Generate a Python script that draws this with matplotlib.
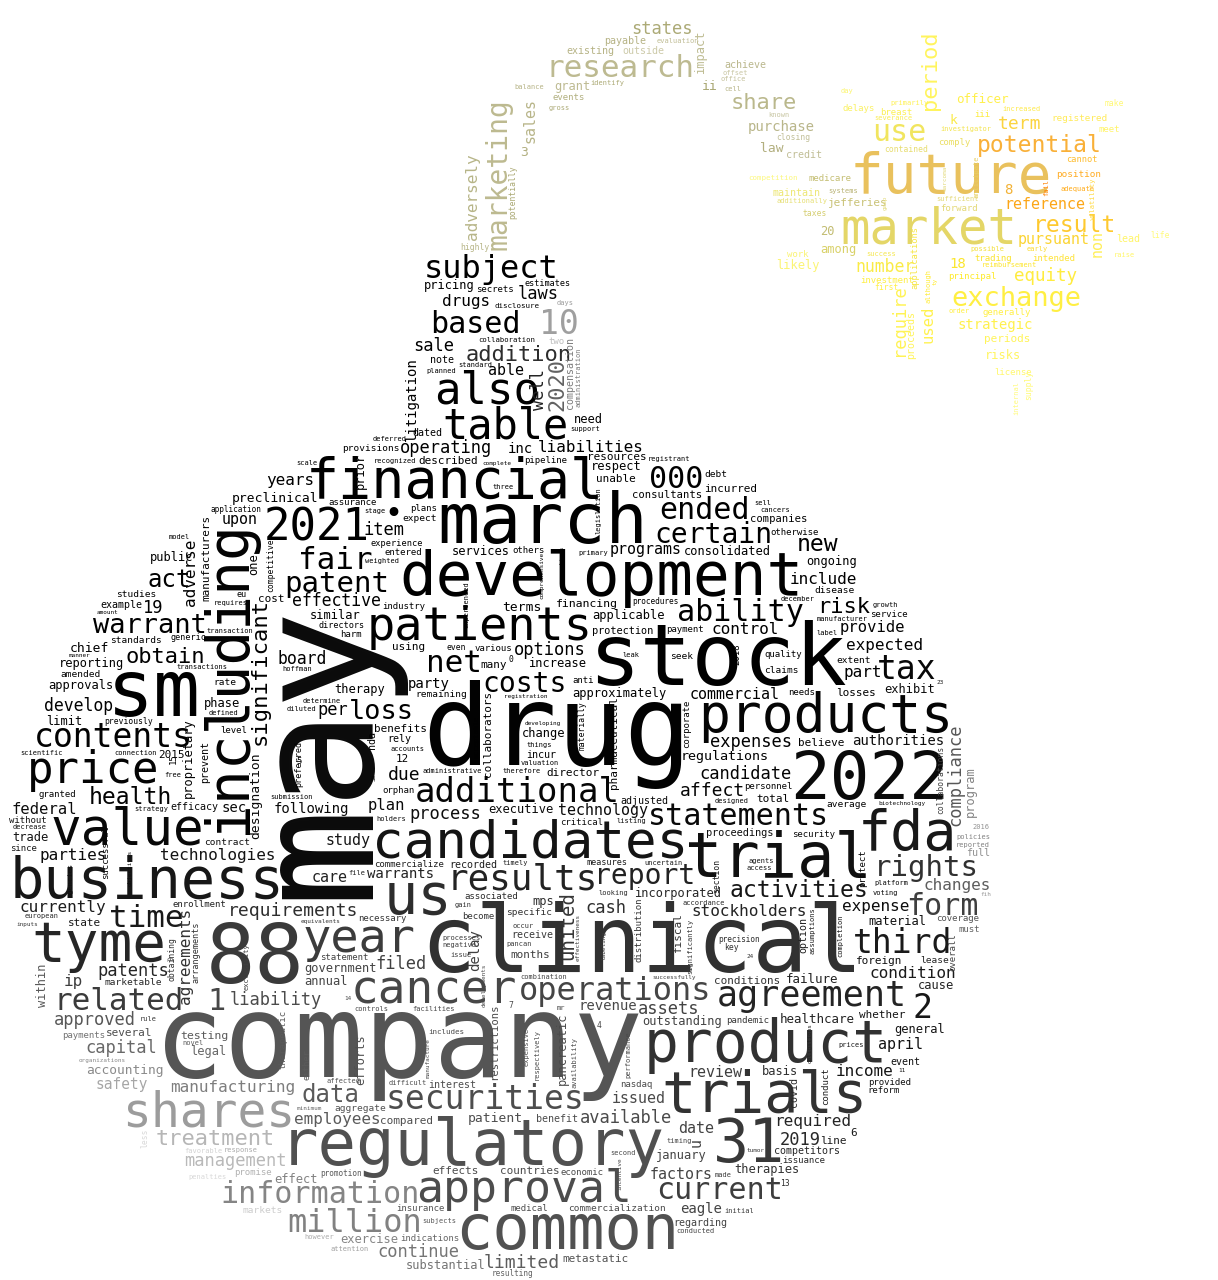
import numpy as np
import matplotlib
matplotlib.use("Agg")
import matplotlib.pyplot as plt
from matplotlib.textpath import TextPath
from matplotlib.font_manager import FontProperties
from matplotlib.path import Path
from matplotlib.transforms import Affine2D

W, H, DPI = 1218, 1280, 100
FONT = "DejaVu Sans Mono"
FP = FontProperties(family=FONT)

# ---------------------------------------------------------------- data
bomb_words = [
    "may", "company", "drug", "clinical", "stock", "88", "sm", "march", "2022", "regulatory",
    "trial", "31", "common", "development", "candidates", "including", "product", "trials", "business", "us",
    "tyme", "fda", "financial", "products", "approval", "value", "shares", "year", "patients", "cancer",
    "price", "also", "2021", "table", "results", "agreement", "additional", "contents", "securities", "tax",
    "10", "third", "2", "operations", "million", "subject", "related", "fair", "time", "net",
    "form", "current", "ability", "statements", "information", "significant", "based", "ended", "000", "1",
    "patent", "rights", "certain", "costs", "report", "loss", "warrant", "act", "data", "new",
    "addition", "health", "activities", "2020", "obtain", "risk", "treatment", "united", "due", "requirements",
    "limited", "affect", "2019", "options", "filed", "agreements", "approved", "operating", "laws", "sale",
    "assets", "liability", "continue", "cash", "capital", "process", "condition", "compliance", "candidate", "patents",
    "available", "expenses", "item", "management", "19", "effective", "board", "develop", "well", "study",
    "manufacturing", "technologies", "stockholders", "employees", "drugs", "parties", "include", "years", "expected", "income",
    "currently", "required", "ip", "liabilities", "changes", "part", "adverse", "expense", "control", "per",
    "federal", "plan", "provide", "regulations", "technology", "factors", "commercial", "accounting", "review", "upon",
    "issued", "april", "care", "able", "safety", "authorities", "revenue", "following", "incorporated", "outstanding",
    "warrants", "litigation", "eagle", "sec", "delay", "designation", "chief", "terms", "patient", "preclinical",
    "healthcare", "failure", "efforts", "applicable", "cause", "basis", "approvals", "pancreatic", "phase", "reporting",
    "trade", "general", "exercise", "services", "respect", "therapies", "effect", "exhibit", "consolidated", "ongoing",
    "public", "one", "approximately", "proprietary", "similar", "executive", "substantial", "government", "need", "change",
    "annual", "mps", "therapy", "limit", "increase", "january", "within", "testing", "months", "12",
    "director", "line", "metastatic", "effects", "many", "fiscal", "2015", "losses", "foreign", "several",
    "believe", "benefits", "compared", "total", "whether", "state", "described", "commercialization", "6", "resources",
    "using", "conditions", "unable", "countries", "cost", "manufacturers", "collaborators", "pharmaceutical", "companies", "consultants",
    "restrictions", "provisions", "lease", "markets", "claims", "marketable", "average", "standards", "amended", "aggregate",
    "disease", "seek", "studies", "specific", "contract", "remaining", "expect", "extent", "rate", "debt",
    "event", "adjusted", "example", "receive", "rely", "interest", "recorded", "note", "benefit", "competitors",
    "full", "incur", "compensation", "option", "covid", "prevent", "efficacy", "necessary", "granted", "nasdaq",
    "two", "industry", "commercialize", "assurance", "secrets", "enrollment", "measures", "provided", "statement", "orphan",
    "harm", "medical", "overall", "protect", "pandemic", "associated", "application", "quality", "payments", "indications",
    "plans", "anti", "economic", "reform", "pipeline", "5", "otherwise", "entered", "payment", "distribution",
    "successful", "personnel", "become", "level", "needs", "critical", "service", "security", "coverage", "resulting",
    "conduct", "others", "procedures", "precision", "without", "promotion", "must", "issuance", "15", "corporate",
    "2018", "directors", "estimates", "collaboration", "generic", "either", "arrangements", "eu", "preferred", "13",
    "previously", "0", "materially", "competitive", "section", "less", "4", "key", "even", "7",
    "collaborations", "disclosure", "includes", "diluted", "assumptions", "completion", "exclusivity", "scientific", "policies", "subjects",
    "issue", "administration", "voting", "response", "european", "primary", "weighted", "model", "pancan", "penalties",
    "free", "respectively", "biotechnology", "legislation", "days", "hoffman", "occur", "sell", "agencies", "prices",
    "made", "favorable", "transactions", "determine", "manufacturer", "things", "submission", "support", "second", "cancers",
    "reported", "transaction", "planned", "mr", "valuation", "administrative", "growth", "agents", "experienced", "accounts",
    "initial", "looking", "organizations", "combination", "acceptable", "designed", "expensive", "leak", "stage", "recognized",
    "three", "conducted", "facilities", "timely", "scale", "holders", "registration", "registrant", "listing", "negative",
    "developing", "however", "connection", "platform", "deferred", "decrease", "affected", "attention", "accordance", "controls",
    "uncertain", "december", "difficult", "gain", "novel", "performance", "requires", "successfully", "equivalents", "therefore",
    "access", "strategy", "timing", "rule", "availability", "11", "23", "comprehensive", "manufacture", "objectives",
    "actions", "manner", "complete", "inputs", "developments", "effectiveness", "incentive", "co", "30", "minimum",
    "tumor", "amount", "14", "24", "obligations", "labeling", "file", "fih", "label", "standard",
    "financing", "pricing", "legal", "experience", "processes", "material", "various", "since", "date", "programs",
    "program", "obtaining", "proceedings", "insurance", "nda", "promise", "protection", "dated", "incurred", "regarding",
    "party", "defined", "2016", "u", "therapeutic", "prior", "inc", "significantly", "\u2022",
]
bomb_sizes = (
    [165, 116, 112, 92, 86, 82, 78, 70, 66, 64]
    + [62, 60, 62, 61, 61, 58, 58, 57, 57, 57]
    + [56, 55, 55, 53, 52, 51, 48, 47, 47, 46]
    + [44, 44, 44, 42, 36, 35, 34, 33, 33, 33]
    + [33, 33, 33, 32, 32, 32, 31, 31, 31, 31]
    + [30, 30, 30, 30, 30, 30, 30, 30, 30, 30]
    + [29, 29, 28, 28, 28, 27, 27, 24, 24, 23]
    + [22, 23, 23, 22, 22, 22, 22, 19, 18, 18]
    + [18, 18, 17, 17, 17, 16, 17, 17, 17, 17]
    + [17, 17, 17, 17, 17, 17, 16, 17, 17, 17]
    + [17, 17, 17, 17, 17, 16.5, 16.5, 16.5, 17, 15]
    + [16, 16, 16, 16, 16, 16, 16, 16, 16, 16]
    + [16, 16, 16, 16, 16, 16, 16, 16, 16, 17]
    + [15.5, 15.5, 15.5, 15.5, 15, 15, 15, 15, 15, 15]
    + [15, 15, 15, 15, 14.5, 14, 14, 14, 14, 14]
    + [14, 14, 14, 14, 14, 13, 13, 13, 13, 13]
    + [12.5, 12.5, 12, 12, 12, 12, 12, 12, 12, 12]
    + [12, 12, 12, 12, 12, 12, 12, 12, 12, 12]
    + [12, 12, 12, 12, 12, 12, 12, 12, 12, 12]
    + [12, 12, 12, 12, 12, 12, 12, 11.5, 11, 11]
    + [11, 11, 11, 11, 11, 11, 11, 11, 11, 11]
    + [11, 11, 11, 11, 11, 11, 11, 11, 11, 11]
    + [11, 11, 11, 11, 11, 11, 11, 11, 10.5, 10.5]
    + [10.5, 9.5, 9.5, 9.5, 9.5, 9.5, 9.5, 9.5, 9.5, 9.5]
    + [9.5, 9.5, 9.5, 9.5, 9.5, 9.5, 9.5, 9.5, 9.5, 9.5]
    + [10, 10, 10, 10, 10, 10, 10, 10, 10, 10]
    + [10, 10, 10, 10, 10, 10, 10, 9, 9, 9]
    + [9, 9, 9, 9, 9, 9, 8.5, 9, 9, 9]
    + [9, 9, 9, 9, 9, 9, 9, 9, 9, 9]
    + [9, 9, 9, 9, 9, 9, 9, 9, 9, 9]
    + [9, 9, 9, 9, 9, 9, 9, 9, 9, 9]
    + [9, 9, 9, 9, 9, 9, 9, 9, 9, 9]
    + [9, 8.5, 8.5, 8.5, 8.5, 8.5, 8.5, 8.5, 8.5, 8]
    + [8, 8, 8, 8, 8, 8, 8, 8, 8, 8]
    + [8, 7.5, 7.5, 7, 7, 7, 7, 7, 7, 7]
    + [7, 7, 7, 7, 7, 7, 7, 7, 7, 7]
    + [7, 7, 7, 7, 7, 7, 7, 7, 7, 7]
    + [7, 7, 7, 7, 7, 7, 7, 7, 7, 7]
    + [7, 7, 7, 7, 7, 7, 7, 7, 7, 7]
    + [7, 7, 7, 7, 7, 7, 7, 7, 7, 7]
    + [7, 7, 7, 7, 7, 7, 7, 7, 7, 7]
    + [7, 7, 7, 7, 7, 7, 7, 7, 7, 7]
    + [7, 7, 7, 7, 7, 7, 7, 7, 7, 7]
    + [7, 7, 7, 7, 7, 6, 6, 6, 6, 6]
    + [6, 6, 6, 6, 6, 6, 6, 6, 6, 6]
    + [6, 6, 6, 6, 6, 6, 7, 6, 7, 7]
    + [11.5, 12, 12, 10, 7, 12, 9, 9, 15, 15]
    + [12, 8, 12, 9, 10, 9, 12, 10, 11, 10]
    + [14, 7, 7, 15, 9, 12, 14, 7, 30]
)

fuse_words = [
    "research", "marketing", "share", "states", "adversely", "sales", "purchase", "law", "ii", "3",
    "impact", "grant", "outside", "achieve", "credit", "existing", "payable", "events", "highly", "closing",
    "potentially", "identify", "evaluation", "office", "balance", "gross", "cell", "known", "offset",
]
fuse_sizes = [
    31, 28, 22, 17, 16, 15, 14, 13, 13, 13,
    12, 12, 10, 10, 10, 10, 10, 9, 8, 8,
    8, 7, 7, 7, 7, 7, 7, 7, 7,
]

spark_words = [
    "future", "market", "use", "exchange", "potential", "result", "period", "term", "equity", "require",
    "number", "used", "pursuant", "reference", "non", "strategic", "18", "8", "k", "officer",
    "likely", "among", "20", "risks", "jefferies", "periods", "proceeds", "lead", "maintain", "registered",
    "position", "intended", "delays", "medicare", "principal", "investment", "breast", "forward", "work", "trading",
    "license", "comply", "iii", "meet", "generally", "applications", "cannot", "taxes", "contained", "life",
    "supply", "make", "first", "competition", "day", "early", "success", "investigator", "additionally", "order",
    "reimbursement", "raise", "fail", "although", "severance", "sufficient", "adequate", "systems", "primarily", "anticipate",
    "internal", "increased", "possible", "volatility", "sarcoma", "gaap", "ty",
]
spark_sizes = [
    56, 49, 30, 27, 23, 23, 22, 18, 17.5, 17,
    16.5, 15.5, 15, 15, 15, 14, 14, 14, 13, 12.5,
    12, 12, 12, 12, 11, 11, 10, 10, 10, 9.4,
    9.3, 9, 9, 9, 9, 9, 9, 9, 9, 9,
    9, 9, 9, 9, 9, 8.8, 8.7, 8, 8, 8,
    8, 8, 8, 7.5, 7, 7, 7, 7, 7, 7,
    7, 7, 7, 7, 7, 7, 7, 7, 7, 7,
    7, 7, 7, 7, 6, 6, 6,
]

vertical_words = {
    "may", "including", "significant", "2020", "united", "compliance", "litigation", "agreements",
    "pancreatic", "efforts", "designation", "delay", "proprietary", "one", "within", "well", "adverse",
    "fiscal", "manufacturers", "collaborators", "pharmaceutical", "restrictions", "overall", "protect",
    "prior", "obtaining", "program", "nda", "u", "conduct", "section", "therapeutic", "effectiveness",
    "incentive", "less", "developments", "compensation", "option", "preferred", "covid", "expensive",
    "materially", "objectives", "prevent", "actions", "manufacture", "competitive", "availability",
    "acceptable", "distribution", "comprehensive", "experienced", "successful", "assumptions",
    "completion", "exclusivity", "administration", "respectively", "legislation", "agencies",
    "collaborations", "15", "corporate", "2018", "arrangements", "either", "performance", "30",
    "obligations", "labeling", "significantly",
    "marketing", "adversely", "potentially", "impact", "sales",
    "period", "require", "used", "non", "proceeds", "applications", "supply", "although", "fail",
    "anticipate", "internal", "sarcoma", "gaap", "volatility", "ty",
}

assert len(bomb_words) == len(bomb_sizes)
assert len(fuse_words) == len(fuse_sizes)
assert len(spark_words) == len(spark_sizes)

# ---------------------------------------------------------------- mask (bomb shape)
G = 2
gw, gh = W // G, H // G
gx = (np.arange(gw) + 0.5) * G
gy = (np.arange(gh) + 0.5) * G
XX, YY = np.meshgrid(gx, gy)
PTS = np.c_[XX.ravel(), YY.ravel()]


def poly_mask(poly):
    return Path(poly).contains_points(PTS).reshape(gh, gw)


body = ((XX - 500) / 495) ** 2 + ((YY - 850) / 430) ** 2 <= 1.0
neck = poly_mask([(424, 252), (566, 252), (614, 445), (396, 445)])
bomb = body | neck


def dist_to_polyline(px, py, pts):
    d = np.full(px.shape, np.inf)
    for (x0, y0), (x1, y1) in zip(pts[:-1], pts[1:]):
        vx, vy = x1 - x0, y1 - y0
        t = np.clip(((px - x0) * vx + (py - y0) * vy) / (vx * vx + vy * vy), 0, 1)
        d = np.minimum(d, np.hypot(px - (x0 + t * vx), py - (y0 + t * vy)))
    return d


fuse_line = [(488, 285), (492, 212), (500, 162), (518, 120), (548, 89), (590, 66),
             (640, 52), (690, 50), (730, 68), (762, 100), (788, 138), (808, 172)]
fd = dist_to_polyline(XX, YY, fuse_line)

SCX, SCY = 968, 212
spark = ((XX - SCX) / 150) ** 2 + ((YY - SCY) / 125) ** 2 <= 1.0
for tx, ty in [(736, 182), (762, 270), (818, 60), (930, 22), (1148, 92),
               (1172, 244), (1082, 315), (1040, 436), (905, 375)]:
    a = np.arctan2(ty - SCY, tx - SCX)
    nx, ny = -np.sin(a), np.cos(a)
    bx, by = SCX + 70 * np.cos(a), SCY + 70 * np.sin(a)
    spark |= poly_mask([(bx + 48 * nx, by + 48 * ny), (tx + 12 * nx, ty + 12 * ny),
                        (tx - 12 * nx, ty - 12 * ny), (bx - 48 * nx, by - 48 * ny)])
fuse = (fd <= 34) & ~body & ~spark
regions = {"bomb": bomb, "fuse": fuse, "spark": spark}

# ---------------------------------------------------------------- colour image
ex, ey = (XX - 500) / 495, (YY - 850) / 430
re, an = np.hypot(ex, ey), np.arctan2(ey, ex)


def adiff(a, b):
    return np.angle(np.exp(1j * (a - b)))


plate = 0.30 * np.exp(-((XX - 480) / 360) ** 4 - ((YY - 1130) / 270) ** 4)
hl = 0.33 * np.exp(-((XX - 205) ** 2 + (YY - 1125) ** 2) / (2 * 70 ** 2))
rim = np.clip((re - 0.80) / 0.20, 0, 1) ** 1.5 * (
    0.72 * np.exp(-(adiff(an, 2.35) / 0.6) ** 2) + 0.75 * np.exp(-(adiff(an, 0.0) / 0.3) ** 2))
gray = np.clip(plate + hl + rim, 0, 0.85)
gray = np.where((XX >= 546) & (XX <= 600) & (YY >= 300) & (YY <= 388), 0.74, gray)
col_bomb = np.repeat(gray[..., None], 3, axis=2)

t_f = 0.7 * np.exp(-(fd / 13) ** 2)
olive, beige = np.array([0.66, 0.65, 0.44]), np.array([0.89, 0.88, 0.80])
col_fuse = olive * (1 - t_f[..., None]) + beige * t_f[..., None]


def mix(c, target, w):
    return c * (1 - w[..., None]) + np.array(target) * w[..., None]


dsp = np.hypot(XX - SCX, YY - SCY)
col_spark = np.ones((gh, gw, 3)) * np.array([1.0, 1.0, 0.58])
col_spark = mix(col_spark, (1.0, 0.9, 0.06), np.exp(-(dsp / 150) ** 2))
col_spark = mix(col_spark, (0.88, 0.85, 0.50), 0.95 * np.exp(-((XX - 925) / 115) ** 4 - ((YY - 190) / 62) ** 4))
col_spark = mix(col_spark, (0.66, 0.64, 0.45), np.exp(-((XX - 835) / 22) ** 2 - ((YY - 200) / 60) ** 2))
col_spark = mix(col_spark, (1.0, 0.58, 0.0), np.exp(-((XX - 1050) ** 2 + (YY - 192) ** 2) / (2 * 32 ** 2)))
col_spark = mix(col_spark, (1.0, 0.3, 0.05), np.exp(-((XX - 1038) ** 2 + (YY - 160) ** 2) / (2 * 20 ** 2)))
colours = {"bomb": col_bomb, "fuse": col_fuse, "spark": col_spark}


# ---------------------------------------------------------------- text geometry helpers
def word_path(word, fs, rot):
    tp = TextPath((0, 0), word, size=fs, prop=FP)
    tr = Affine2D()
    if rot:
        tr = tr.rotate_deg(90)
    tr = tr.scale(1, -1)
    return tr.transform_path(tp)


def probe(word, fs, rot):
    f = plt.figure(figsize=(6, 6), dpi=DPI)
    a = f.add_axes([0, 0, 1, 1])
    a.set_xlim(0, 600)
    a.set_ylim(600, 0)
    a.axis("off")
    a.text(300, 300, word, fontsize=fs * 72 / DPI, family=FONT, rotation=rot,
           rotation_mode="anchor", ha="left", va="baseline", color="black")
    f.canvas.draw()
    img = np.asarray(f.canvas.buffer_rgba())[..., 0]
    plt.close(f)
    ys, xs = np.nonzero(img < 140)
    return np.array([xs.min(), ys.min(), xs.max() + 1, ys.max() + 1], float)


calib = {}
for rot in (0, 90):
    deltas, leads = [], []
    for w in ("imi", "mim"):
        p = word_path(w, 120, rot)
        e = p.get_extents()
        ob = probe(w, 120, rot)
        pred = np.array([300 + e.x0, 300 + e.y0, 300 + e.x1, 300 + e.y1])
        deltas.append(np.array([(ob[0] + ob[2] - pred[0] - pred[2]) / 2,
                                (ob[1] + ob[3] - pred[1] - pred[3]) / 2]))
        leads.append(np.array([e.x0, 0.0]) if rot == 0 else np.array([0.0, e.y1]))
    pen_err = np.abs(deltas[0] - deltas[1]).sum()
    ink_err = np.abs((deltas[0] + leads[0]) - (deltas[1] + leads[1])).sum()
    if pen_err <= ink_err:
        calib[rot] = (0.0, (deltas[0] + deltas[1]) / 2)
    else:
        calib[rot] = (1.0, (deltas[0] + leads[0] + deltas[1] + leads[1]) / 2)

# ---------------------------------------------------------------- layout
items = []
for words, sizes, reg in ((bomb_words, bomb_sizes, "bomb"),
                          (fuse_words, fuse_sizes, "fuse"),
                          (spark_words, spark_sizes, "spark")):
    for w, s in zip(words, sizes):
        items.append((float(s), w, reg))
items.sort(key=lambda t: -t[0])

rng = np.random.default_rng(21)
occ = np.zeros((gh, gw), bool)
M = 1
S_cache = {}
placed = []


def integral(block):
    S = np.zeros((gh + 1, gw + 1), np.int32)
    S[1:, 1:] = block.astype(np.int32).cumsum(0).cumsum(1)
    return S


for size, word, reg in items:
    rot = 90 if word in vertical_words else 0
    fs = size
    found = None
    for _ in range(6):
        p = word_path(word, fs, rot)
        e = p.get_extents()
        bw = int(np.ceil((e.x1 - e.x0) / G)) + 2 * M
        bh = int(np.ceil((e.y1 - e.y0) / G)) + 2 * M
        if bw < gw and bh < gh:
            if reg not in S_cache:
                S_cache[reg] = integral(occ | ~regions[reg])
            S = S_cache[reg]
            tot = S[bh:, bw:] - S[:-bh, bw:] - S[bh:, :-bw] + S[:-bh, :-bw]
            free = np.flatnonzero(tot == 0)
            if free.size:
                found = (p, e, bw, bh, free, tot.shape[1])
                break
        fs *= 0.86
        if fs < 4.5:
            break
    if found is None:
        continue
    p, e, bw, bh, free, ncol = found
    k = int(free[rng.integers(free.size)])
    r, c = divmod(k, ncol)
    ox = (c + M) * G - e.x0
    oy = (r + M) * G - e.y0
    SX, SY = np.meshgrid(gx[c:c + bw], gy[r:r + bh])
    pp = Affine2D().translate(ox, oy).transform_path(p)
    inside = pp.contains_points(np.c_[SX.ravel(), SY.ravel()]).reshape(bh, bw)
    occ[r:r + bh, c:c + bw] |= inside
    S_cache.clear()
    rm = regions[reg][r:r + bh, c:c + bw]
    patch = colours[reg][r:r + bh, c:c + bw]
    col = patch[rm].mean(0) if rm.any() else patch.reshape(-1, 3).mean(0)
    placed.append((word, fs, rot, ox, oy, np.clip(col, 0, 1), e))

# ---------------------------------------------------------------- draw
fig = plt.figure(figsize=(W / DPI, H / DPI), dpi=DPI)
fig.patch.set_facecolor("white")
ax = fig.add_axes([0, 0, 1, 1])
ax.set_xlim(0, W)
ax.set_ylim(H, 0)
ax.axis("off")
for word, fs, rot, ox, oy, col, e in placed:
    mode, const = calib[rot]
    lead = np.array([e.x0, 0.0]) if rot == 0 else np.array([0.0, e.y1])
    apos = np.array([ox, oy]) - const + mode * lead
    ax.text(apos[0], apos[1], word, fontsize=fs * 72 / DPI, family=FONT, rotation=rot,
            rotation_mode="anchor", ha="left", va="baseline", color=tuple(col))
fig.savefig("out.png", dpi=DPI, facecolor="white")
